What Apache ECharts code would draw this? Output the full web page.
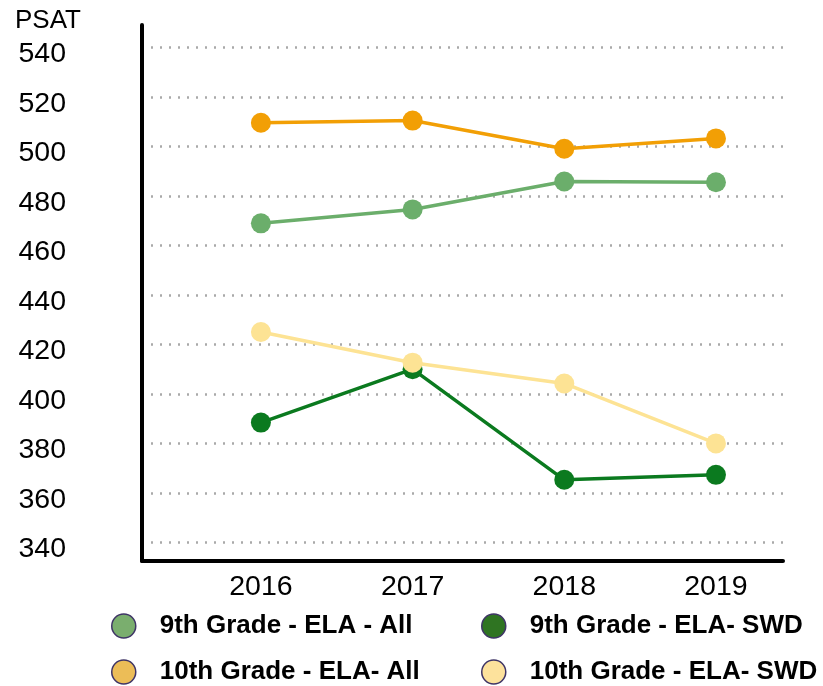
<!DOCTYPE html>
<html>
<head>
<meta charset="utf-8">
<script src="https://cdn.jsdelivr.net/npm/echarts@6/dist/echarts.min.js"></script>
<style>
  html, body { margin: 0; padding: 0; background: #fff; }
  #main { width: 823px; height: 686px; }
</style>
</head>
<body>
<div id="main"></div>
<script>
// data
var years = [2016, 2017, 2018, 2019];
var grade9All = [468.9, 474.5, 485.8, 485.5];
var grade10All = [509.5, 510.4, 499.0, 503.2];
var grade9Swd = [388.4, 410.0, 365.3, 367.3];
var grade10Swd = [425.0, 412.6, 404.2, 380.0];
var yTicks = [340, 360, 380, 400, 420, 440, 460, 480, 500, 520, 540];
var seriesNames = ['9th Grade - ELA - All', '10th Grade - ELA- All', '9th Grade - ELA- SWD', '10th Grade - ELA- SWD'];

function pairs(vals) {
    return years.map(function (y, i) { return [y, vals[i]]; });
}

var myChart = echarts.init(document.getElementById('main'));

var font = '"Liberation Sans", Arial, sans-serif';

function lineSeries(name, vals, color) {
    return {
        name: name,
        type: 'line',
        data: pairs(vals),
        symbol: 'circle',
        symbolSize: 20,
        lineStyle: {color: color, width: 3.5},
        itemStyle: {color: color},
        emphasis: {disabled: true}
    };
}

// one legend per entry, laid out as 2 x 2
function legendItem(name, color, left, top) {
    return {
        left: left,
        top: top,
        icon: 'circle',
        itemWidth: 62,
        itemHeight: 24,
        selectedMode: false,
        textStyle: {fontSize: 26, fontWeight: 'bold', color: '#000', fontFamily: font, lineHeight: 28},
        data: [{name: name, itemStyle: {color: color, borderColor: '#3f3566', borderWidth: 1.5}}]
    };
}

// gridlines only every 20 units; ticks run every 2.5 from min
var gridColors = ['transparent', 'transparent', 'transparent', '#a9a9a9',
    'transparent', 'transparent', 'transparent', 'transparent'];

var option = {
    animation: false,
    title: {
        text: 'PSAT',
        left: 10,
        top: 3,
        textStyle: {fontSize: 26, fontWeight: 'normal', color: '#000', fontFamily: font}
    },
    legend: [
        legendItem(seriesNames[0], '#7aae6e', 106, 607),
        legendItem(seriesNames[1], '#ecbd57', 106, 653),
        legendItem(seriesNames[2], '#2f7422', 476, 607),
        legendItem(seriesNames[3], '#fde29c', 476, 653)
    ],
    grid: {left: 142, right: 40, top: 25, bottom: 125},
    xAxis: {
        type: 'value',
        min: 2015.216,
        max: 2019.442,
        axisLine: {show: true, lineStyle: {color: '#000', width: 4}},
        axisTick: {show: false},
        splitLine: {show: false},
        axisLabel: {
            customValues: years,
            fontSize: 28.5,
            color: '#000',
            fontFamily: font,
            margin: 12,
            formatter: function (v) { return String(v); }
        }
    },
    yAxis: {
        type: 'value',
        min: 332.5,
        max: 549,
        interval: 2.5,
        axisLine: {show: true, lineStyle: {color: '#000', width: 4}},
        axisTick: {show: false},
        axisLabel: {
            fontSize: 28.5,
            color: '#000',
            fontFamily: font,
            margin: 76,
            verticalAlign: 'top',
            lineHeight: 14,
            showMinLabel: false,
            showMaxLabel: false,
            formatter: function (v) {
                var r = Math.round(v);
                return (Math.abs(v - r) < 1e-6 && yTicks.indexOf(r) >= 0) ? String(r) : '';
            }
        },
        splitLine: {
            show: true,
            lineStyle: {color: gridColors, width: 2.5, type: [2, 7]}
        }
    },
    series: [
        lineSeries(seriesNames[0], grade9All, '#6bae6b'),
        lineSeries(seriesNames[1], grade10All, '#f29f05'),
        lineSeries(seriesNames[2], grade9Swd, '#0b7a1f'),
        lineSeries(seriesNames[3], grade10Swd, '#fde394')
    ]
};

myChart.setOption(option);
</script>
</body>
</html>
